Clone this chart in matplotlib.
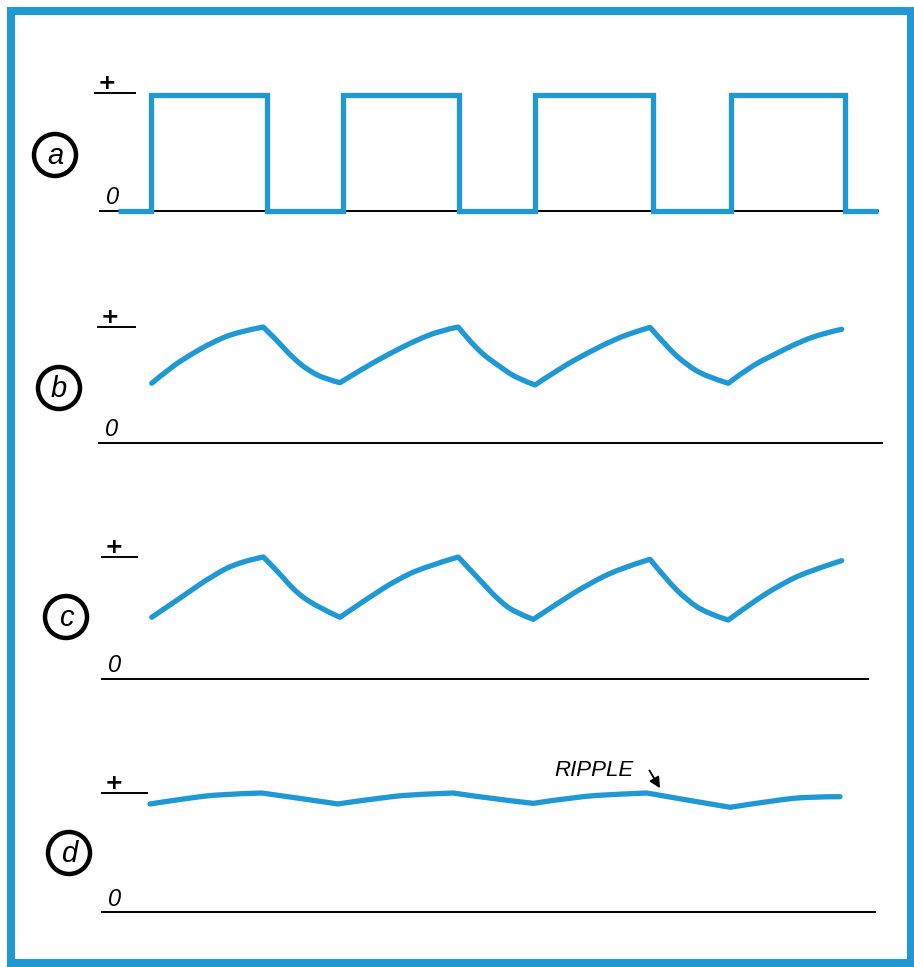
import matplotlib
matplotlib.use("Agg")
import matplotlib.pyplot as plt
from matplotlib.patches import Circle, Rectangle, PathPatch
from matplotlib.path import Path

W, H = 914, 967
BLUE = "#1f98d4"
FONT = "Liberation Sans"

# time in units where one drive period = 10; level 0 = "0" line, 1 = "+" line
# (a) square-wave input
t_a = [-1.66, 0.05, 6.04, 10.0, 16.0, 19.95, 26.06, 30.1, 36.0, 37.72]
v_a = [0.0, 0.98, 0.0, 0.98, 0.0, 0.98, 0.0, 0.98, 0.0, 0.0]

# (b) after first filter stage
t_b = [0.09, 1.04, 2.07, 3.26, 4.51, 5.87, 6.56, 7.42, 8.29, 9.16, 9.84,
       11.05, 12.44, 13.82, 15.03, 15.97, 16.93, 18.13, 19.0, 19.95,
       21.24, 22.63, 24.01, 25.04, 25.91, 26.77, 27.81, 28.84, 29.96,
       31.09, 32.47, 33.68, 34.89, 35.84]
v_b = [0.515, 0.647, 0.759, 0.871, 0.957, 1.0, 0.888, 0.730, 0.615, 0.549, 0.520,
       0.644, 0.773, 0.888, 0.968, 1.0, 0.802, 0.658, 0.558, 0.50,
       0.644, 0.773, 0.888, 0.954, 0.997, 0.830, 0.672, 0.572, 0.515,
       0.658, 0.773, 0.873, 0.946, 0.980]

# (c)
t_c = [0.09, 1.55, 3.28, 4.66, 5.87, 6.56, 7.60, 8.81, 9.84,
       11.40, 12.78, 14.16, 15.97, 16.93, 18.13, 19.0, 19.86,
       21.24, 22.63, 24.35, 25.91, 26.77, 27.81, 28.84, 29.96,
       31.26, 32.64, 34.03, 35.84]
v_c = [0.504, 0.660, 0.852, 0.961, 1.0, 0.893, 0.701, 0.578, 0.504,
       0.673, 0.811, 0.915, 1.0, 0.838, 0.632, 0.537, 0.487,
       0.632, 0.770, 0.907, 0.981, 0.811, 0.646, 0.537, 0.481,
       0.632, 0.770, 0.879, 0.970]

# (d) smoothed output with ripple
t_d = [0.0, 1.9, 3.63, 5.79, 7.77, 9.74, 12.26, 13.99, 15.7, 17.77, 19.86,
       22.11, 24.18, 25.74, 27.81, 30.05, 32.47, 34.2, 35.75]
v_d = [0.908, 0.955, 0.99, 1.0, 0.955, 0.908, 0.968, 0.99, 1.0, 0.95, 0.913,
       0.969, 0.99, 1.0, 0.941, 0.880, 0.941, 0.969, 0.969]

labels = ["a", "b", "c", "d"]
series = [(t_a, v_a), (t_b, v_b), (t_c, v_c), (t_d, v_d)]

# layout (pixels): "0" row, "+" row, 0-line span, + tick span, circle centre
X_T0, PX_PER_T = 150, 19.3
layout = {
    "a": dict(y0=211, y1=93, zero=(100, 878), tick=(95, 135), circ=(55, 155)),
    "b": dict(y0=443, y1=327, zero=(99, 882), tick=(98, 135), circ=(59, 388)),
    "c": dict(y0=678.5, y1=557, zero=(102, 868), tick=(102, 137), circ=(66, 617)),
    "d": dict(y0=912, y1=793, zero=(102, 875), tick=(102, 147), circ=(69, 853)),
}


def smooth_path(t, v):
    """Quadratic B-spline through the read points, kept sharp at the
    peaks/troughs (where the slope changes sign)."""
    pts = list(zip(t, v))
    breaks = [0]
    for i in range(1, len(v) - 1):
        if (v[i] - v[i - 1]) * (v[i + 1] - v[i]) < 0:
            breaks.append(i)
    breaks.append(len(v) - 1)
    verts, codes = [pts[0]], [Path.MOVETO]
    for a, b in zip(breaks[:-1], breaks[1:]):
        seg = pts[a:b + 1]
        if len(seg) == 2:
            verts.append(seg[1]); codes.append(Path.LINETO)
            continue
        for i in range(1, len(seg) - 2):
            mid = ((seg[i][0] + seg[i + 1][0]) / 2, (seg[i][1] + seg[i + 1][1]) / 2)
            verts += [seg[i], mid]; codes += [Path.CURVE3, Path.CURVE3]
        verts += [seg[-2], seg[-1]]; codes += [Path.CURVE3, Path.CURVE3]
    return Path(verts, codes)


fig = plt.figure(figsize=(W / 100, H / 100), dpi=100)
bg = fig.add_axes([0, 0, 1, 1])
bg.set_xlim(0, W); bg.set_ylim(H, 0); bg.axis("off")

bg.add_patch(Rectangle((11, 11), 900, 952, fill=False, ec=BLUE, lw=5.8))

panel_axes = {}
for lbl, (t, v) in zip(labels, series):
    L = layout[lbl]
    y0, y1 = L["y0"], L["y1"]
    # guide lines and hand lettering
    bg.plot(L["zero"], [y0, y0], color="black", lw=1.4)
    bg.plot(L["tick"], [y1, y1], color="black", lw=1.4)
    bg.text(L["tick"][0] + 12, y1 - 10, "+", fontsize=16, fontweight="bold",
            ha="center", va="center", family="DejaVu Sans")
    bg.text(L["zero"][0] + 13, y0 - 13, "0", fontsize=17, style="italic",
            ha="center", va="center", family=FONT)
    cx, cy = L["circ"]
    bg.add_patch(Circle((cx, cy), 21, fill=False, ec="black", lw=3.2))
    bg.text(cx, cy + 1, lbl, fontsize=21, style="italic", ha="center",
            va="center", family=FONT)

    ax = fig.add_axes([0, 0, 1, 1])
    ax.patch.set_alpha(0)
    ax.axis("off")
    ax.set_xlim(-X_T0 / PX_PER_T, (W - X_T0) / PX_PER_T)
    ax.set_ylim((y0 - H) / (y0 - y1), y0 / (y0 - y1))
    if lbl == "a":
        ax.step(t, v, where="post", color=BLUE, lw=3.8,
                solid_joinstyle="miter", solid_capstyle="butt")
    else:
        ax.add_patch(PathPatch(smooth_path(t, v), fill=False, ec=BLUE, lw=3.8,
                               joinstyle="round", capstyle="round"))
    panel_axes[lbl] = ax

bg.text(594, 771, "RIPPLE", fontsize=16, style="italic", ha="center",
        va="center", family=FONT)
panel_axes["d"].annotate("", xy=(26.5, 1.02), xytext=(648, 768),
                         textcoords=bg.transData,
                         arrowprops=dict(arrowstyle="-|>", color="black",
                                         lw=1.3, mutation_scale=16))

fig.savefig("out.png", dpi=100)
